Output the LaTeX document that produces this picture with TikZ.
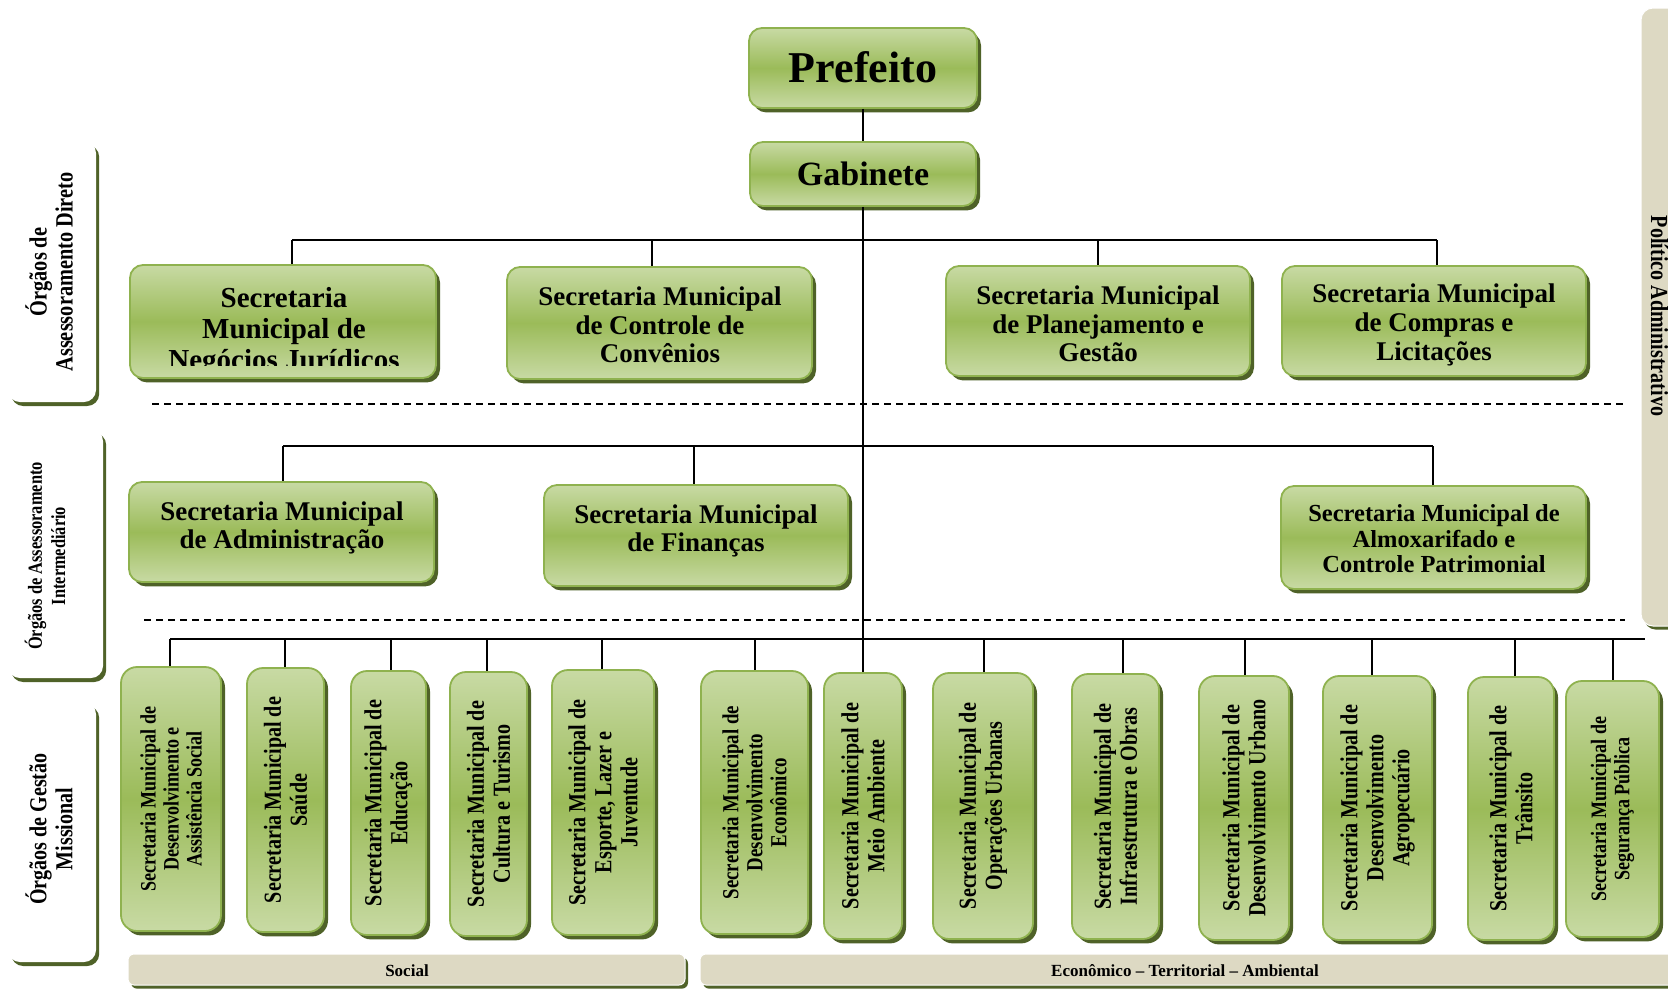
\documentclass[tikz,border=0pt]{standalone}
\usepackage{fontspec}
\setmainfont{Liberation Serif}
\newfontfamily\condfont[FakeStretch=0.82]{Liberation Serif}
\usetikzlibrary{shadows,fit}
\definecolor{gLight}{HTML}{C8DAA4}
\definecolor{gMid}{HTML}{9BBB59}
\definecolor{gEdge}{HTML}{8FB24F}
\definecolor{gShadow}{HTML}{4F6228}
\definecolor{beige}{HTML}{DDD9C3}
\newcommand{\myfs}[2]{\fontsize{#1pt}{#2pt}\selectfont}
\tikzset{
  gbox/.style={draw=gEdge, line width=0.9pt, rounded corners=6.5pt, top color=gLight, bottom color=gLight, middle color=gMid, inner sep=0pt,
    drop shadow={shadow xshift=2pt, shadow yshift=-2.2pt, fill=gShadow, opacity=1}},
  vbox/.style={gbox, rounded corners=8pt},
  lbox/.style={fill=white, rounded corners=6pt, inner sep=0pt,
    drop shadow={shadow xshift=1.6pt, shadow yshift=-2pt, fill=gShadow, opacity=1}},
  bbox/.style={fill=beige, draw=white, line width=0.5pt, rounded corners=3pt, inner sep=0pt,
    drop shadow={shadow xshift=1.5pt, shadow yshift=-1.8pt, fill=gShadow, opacity=1}},
  wire/.style={line width=0.7pt, black},
  sepline/.style={line width=0.6pt, dash pattern=on 3.5pt off 2.5pt},
  htxt/.style={align=center, inner sep=0pt},
  vtxt/.style={align=center, inner sep=0pt, rotate=90},
  vstd/.style={vtxt, font=\condfont\bfseries\myfs{12.25}{13}},
}
\begin{document}
\begin{tikzpicture}[x=0.5pt,y=-0.5pt]
\useasboundingbox (0,0) rectangle (1668,991);
\fill[white] (0,0) rectangle (1668,991);

% right side bar
\node[bbox, rounded corners=6pt, fit={(1641,8) (1720,626)}] (rbar) {};
\node[rotate=-90, anchor=base, inner sep=0pt, font=\condfont\bfseries\myfs{12.25}{13}] (tpol) at (1651,316) {Político Administrativo};

% left labels
\node[lbox, fit={(8,141) (96,402)}] (la) {};
\node[lbox, fit={(8,429) (103,678)}] (lb) {};
\node[lbox, fit={(8,702) (96,962)}] (lc) {};
\node[vtxt, font=\condfont\bfseries\myfs{12.4}{13}] (tla) at (49,272) {Órgãos de\\Assessoramento Direto};
\node[vtxt, font=\condfont\bfseries\myfs{10}{11.7}] (tlb) at (45,556) {Órgãos de Assessoramento\\Intermediário};
\node[vtxt, font=\condfont\bfseries\myfs{12.2}{13}] (tlc) at (49,829) {Órgãos de Gestão\\Missional};

% top
\node[gbox, fit={(749,28) (977,108)}] (pref) {};
\node[htxt, font=\bfseries\myfs{22}{24}] (tpref) at (863,67) {Prefeito};
\node[gbox, fit={(750,142) (976,206)}] (gab) {};
\node[htxt, font=\bfseries\myfs{17}{19}] (tgab) at (863,174) {Gabinete};

% row 1
\node[gbox, fit={(130,265) (436,378)}] (nj) {};
\begin{scope}
\clip (130,260) rectangle (436,365);
\node[htxt, font=\bfseries\myfs{14.5}{15.5}] (tnj) at (284,332) {Secretaria\\Municipal de\\Negócios Jurídicos};
\end{scope}
\node[gbox, fit={(507,267) (812,379)}] (con) {};
\node[htxt, font=\bfseries\myfs{13.5}{14.3}] (tcon) at (660,325) {Secretaria Municipal\\de Controle de\\Convênios};
\node[gbox, fit={(946,266) (1250,376)}] (plan) {};
\node[htxt, font=\bfseries\myfs{13.5}{14.3}] (tplan) at (1098,324) {Secretaria Municipal\\de Planejamento e\\Gestão};
\node[gbox, fit={(1282,266) (1586,376)}] (comp) {};
\node[htxt, font=\bfseries\myfs{13.5}{14.3}] (tcomp) at (1434,325) {Secretaria Municipal\\de Compras e\\Licitações};

% row 2
\node[gbox, fit={(129,482) (434,582)}] (adm) {};
\node[htxt, font=\bfseries\myfs{13.5}{13.9}] (tadm) at (282,528) {Secretaria Municipal\\de Administração};
\node[gbox, fit={(544,485) (848,586)}] (fin) {};
\node[htxt, font=\bfseries\myfs{13.5}{13.9}] (tfin) at (696,531) {Secretaria Municipal\\de Finanças};
\node[gbox, fit={(1281,486) (1586,589)}] (alm) {};
\node[htxt, font=\bfseries\myfs{12.25}{12.75}] (talm) at (1434,539) {Secretaria Municipal de\\Almoxarifado e\\Controle Patrimonial};

% row 3
\node[vbox, fit={(121,667) (221,931)}] (r1) {};
\node[vbox, fit={(247,668) (324,932)}] (r2) {};
\node[vbox, fit={(351,671) (426,935)}] (r3) {};
\node[vbox, fit={(450,672) (527,936)}] (r4) {};
\node[vbox, fit={(552,670) (654,935)}] (r5) {};
\node[vbox, fit={(701,671) (808,934)}] (r6) {};
\node[vbox, fit={(824,673) (902,939)}] (r7) {};
\node[vbox, fit={(933,673) (1033,939)}] (r8) {};
\node[vbox, fit={(1072,674) (1159,939)}] (r9) {};
\node[vbox, fit={(1199,676) (1289,940)}] (r10) {};
\node[vbox, fit={(1323,676) (1432,940)}] (r11) {};
\node[vbox, fit={(1468,677) (1554,940)}] (r12) {};
\node[vbox, fit={(1566,681) (1659,937)}] (r13) {};

\node[vtxt, font=\condfont\bfseries\myfs{11}{11.5}] (t1) at (r1.center) {Secretaria Municipal de\\Desenvolvimento e\\Assistência Social};
\node[vstd] (t2) at (r2.center) {Secretaria Municipal de\\Saúde};
\node[vstd] (t3) at (r3.center) {Secretaria Municipal de\\Educação};
\node[vstd] (t4) at (r4.center) {Secretaria Municipal de\\Cultura e Turismo};
\node[vstd] (t5) at (r5.center) {Secretaria Municipal de\\Esporte, Lazer e\\Juventude};
\node[vtxt, font=\condfont\bfseries\myfs{11.5}{12}] (t6) at (r6.center) {Secretaria Municipal de\\Desenvolvimento\\Econômico};
\node[vstd] (t7) at (r7.center) {Secretaria Municipal de\\Meio Ambiente};
\node[vstd] (t8) at (r8.center) {Secretaria Municipal de\\Operações Urbanas};
\node[vstd] (t9) at (r9.center) {Secretaria Municipal de\\Infraestrutura e Obras};
\node[vstd] (t10) at (r10.center) {Secretaria Municipal de\\Desenvolvimento Urbano};
\node[vstd] (t11) at (r11.center) {Secretaria Municipal de\\Desenvolvimento\\Agropecuário};
\node[vstd] (t12) at (r12.center) {Secretaria Municipal de\\Trânsito};
\node[vtxt, font=\condfont\bfseries\myfs{11}{11.7}] (t13) at (r13.center) {Secretaria Municipal de\\Segurança Pública};

% bottom bars
\node[bbox, fit={(128,954) (685,985)}] (bsoc) {};
\node[htxt, font=\bfseries\myfs{8.5}{10}] (tsoc) at (407,971) {Social};
\node[bbox, fit={(700,954) (1720,985)}] (becon) {};
\node[htxt, font=\bfseries\myfs{8.5}{10}] (tecon) at (1185,971) {Econômico – Territorial – Ambiental};

% separators
\draw[sepline] (152,404) -- (1625,404);
\draw[sepline] (144,620) -- (1625,620);

% connectors
\draw[wire] (pref.south) -- (gab.north);
\draw[wire] (gab.south) -- (r7.north);

\coordinate (b1a) at (292,240);
\coordinate (b1b) at (652,240);
\coordinate (b1c) at (1098,240);
\coordinate (b1d) at (1437,240);
\draw[wire] (b1a) -- (b1d);
\draw[wire] (b1a) -- (b1a |- nj.north);
\draw[wire] (b1b) -- (b1b |- con.north);
\draw[wire] (b1c) -- (b1c |- plan.north);
\draw[wire] (b1d) -- (b1d |- comp.north);

\coordinate (b2a) at (283,446);
\coordinate (b2b) at (694,446);
\coordinate (b2c) at (1433,446);
\draw[wire] (b2a) -- (b2c);
\draw[wire] (b2a) -- (b2a |- adm.north);
\draw[wire] (b2b) -- (b2b |- fin.north);
\draw[wire] (b2c) -- (b2c |- alm.north);

\coordinate (b3a) at (170,639);
\coordinate (b3end) at (1645,639);
\draw[wire] (b3a) -- (b3end);
\draw[wire] (b3a) -- (b3a |- r1.north);
\coordinate (b3b) at (285,639);  \draw[wire] (b3b) -- (b3b |- r2.north);
\coordinate (b3c) at (391,639);  \draw[wire] (b3c) -- (b3c |- r3.north);
\coordinate (b3d) at (487,639);  \draw[wire] (b3d) -- (b3d |- r4.north);
\coordinate (b3e) at (602,639);  \draw[wire] (b3e) -- (b3e |- r5.north);
\coordinate (b3f) at (755,639);  \draw[wire] (b3f) -- (b3f |- r6.north);
\coordinate (b3h) at (984,639);  \draw[wire] (b3h) -- (b3h |- r8.north);
\coordinate (b3i) at (1123,639); \draw[wire] (b3i) -- (b3i |- r9.north);
\coordinate (b3j) at (1245,639); \draw[wire] (b3j) -- (b3j |- r10.north);
\coordinate (b3k) at (1372,639); \draw[wire] (b3k) -- (b3k |- r11.north);
\coordinate (b3l) at (1515,639); \draw[wire] (b3l) -- (b3l |- r12.north);
\coordinate (b3m) at (1613,639); \draw[wire] (b3m) -- (b3m |- r13.north);
\end{tikzpicture}
\end{document}
